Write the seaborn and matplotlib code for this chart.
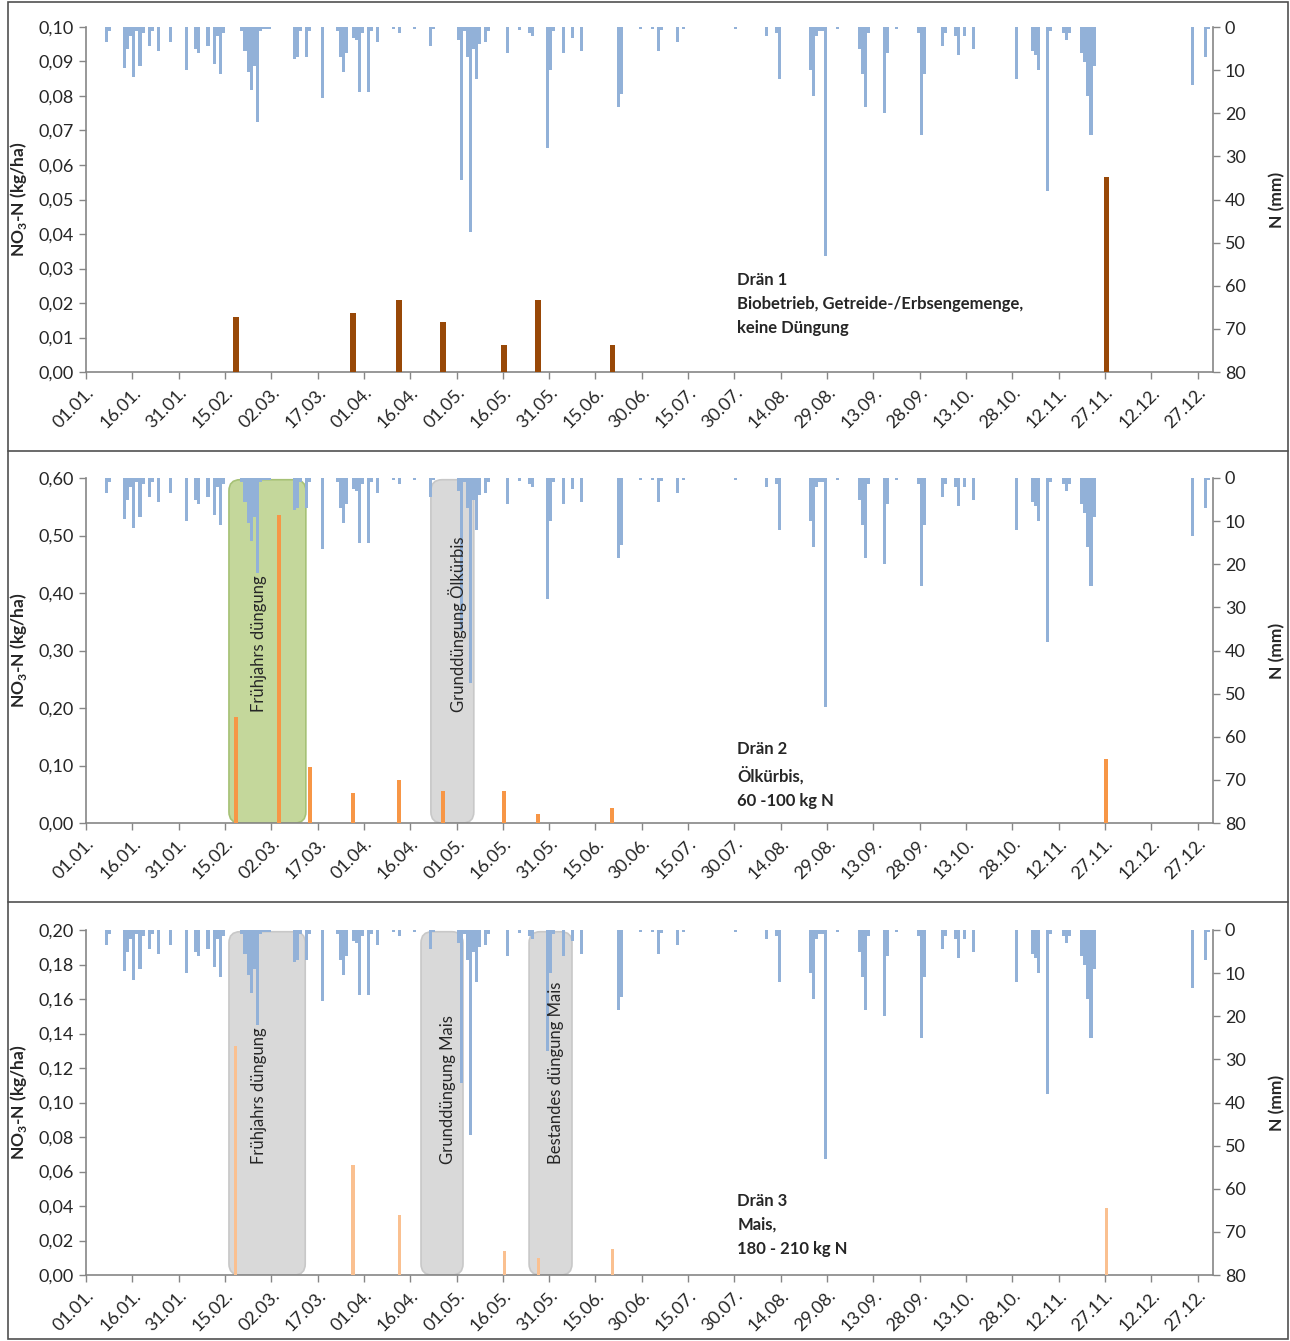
import matplotlib.pyplot as plt
import matplotlib.patches as mpatches
from matplotlib.ticker import FuncFormatter, MultipleLocator
import numpy as np
import pandas as pd
import seaborn as sns

sns.set_theme(style="white")
plt.rcParams['font.family'] = ['Lato', 'DejaVu Sans']
plt.rcParams['mathtext.fontset'] = 'custom'
plt.rcParams['mathtext.rm'] = 'Lato'
plt.rcParams['mathtext.bf'] = 'Lato:bold'

# x axis: one category per day of the year, labels every 15 days
tick_labels = ['01.01.', '16.01.', '31.01.', '15.02.', '02.03.', '17.03.', '01.04.',
               '16.04.', '01.05.', '16.05.', '31.05.', '15.06.', '30.06.', '15.07.',
               '30.07.', '14.08.', '29.08.', '13.09.', '28.09.', '13.10.', '28.10.',
               '12.11.', '27.11.', '12.12.', '27.12.']

# daily precipitation N (mm), day index from 01.01. = 0
rain_day = [6, 7, 12, 13, 14, 15, 16, 17, 18, 20, 21, 23, 27, 32, 35, 36, 39, 41, 42, 43,
            44, 50, 51, 52, 53, 54, 55, 56, 57, 58, 59, 67, 68, 69, 71, 72, 76, 81, 82, 83,
            84, 86, 87, 88, 89, 91, 92, 94, 99, 101, 106, 111, 112, 120, 121, 122, 123, 124,
            125, 126, 127, 129, 130, 136, 140, 143, 144, 149, 150, 151, 154, 157, 160, 172,
            173, 179, 183, 185, 186, 191, 193, 210, 220, 223, 224, 234, 235, 236, 237, 238,
            239, 243, 250, 251, 252, 253, 258, 259, 262, 269, 270, 271, 277, 278, 281, 282,
            284, 287, 301, 306, 307, 308, 311, 312, 316, 317, 318, 322, 323, 324, 325, 326,
            358, 362, 363]
rain_mm = [3.4, 1, 9.5, 5, 2, 11.5, 1, 9, 1.5, 4.5, 1, 5.5, 3.5, 10, 5, 6, 4.5, 8.5, 2, 11,
           1.5, 1, 5.5, 10.5, 14.5, 9, 22, 1, 0.5, 0.5, 0.5, 7.5, 7, 1, 7, 1, 16.5, 1, 7, 10.5,
           6, 2.5, 3, 15, 1.5, 15, 1, 3.5, 0.5, 1.5, 0.5, 4.5, 0.5, 3, 35.5, 1, 7, 47.5,
           5, 12, 4, 3.5, 1, 6, 0.7, 1.5, 2, 28, 10, 1, 6, 2.5, 5.5, 18.5,
           15.5, 0.5, 0.5, 5.5, 0.7, 3.5, 0.5, 0.5, 2, 1.5, 12, 10, 16, 2, 1, 1,
           53, 0.5, 5, 11, 18.5, 1.5, 20, 6, 0.5, 1.5, 25, 11, 4.5, 1.5, 2, 6.5,
           2, 5, 12, 5.5, 6.5, 10, 38, 1, 1.5, 3, 1.5, 6, 8, 16, 25, 9,
           13.5, 7, 0.5]

# NO3-N loads (kg/ha) per drain
no3_day_1 = [48, 86, 101, 115, 135, 146, 170, 330]
no3_val_1 = [0.016, 0.017, 0.021, 0.0145, 0.0077, 0.021, 0.0077, 0.0565]
no3_day_2 = [48, 62, 72, 86, 101, 115, 135, 146, 170, 330]
no3_val_2 = [0.185, 0.536, 0.098, 0.053, 0.074, 0.055, 0.055, 0.016, 0.026, 0.112]
no3_day_3 = [48, 86, 101, 135, 146, 170, 330]
no3_val_3 = [0.133, 0.064, 0.035, 0.014, 0.010, 0.015, 0.039]

# fertilisation periods (start day, end day, label, label day)
periods_2 = [(45.8, 70.7, 'Frühjahrs düngung', 55.5),
             (111.2, 125.1, 'Grunddüngung Ölkürbis', 119.8)]
periods_3 = [(45.8, 70.5, 'Frühjahrs düngung', 55.5),
             (108.0, 121.6, 'Grunddüngung Mais', 116.6),
             (143.0, 156.9, 'Bestandes düngung Mais', 151.8)]

notes = ['Drän 1\nBiobetrieb, Getreide-/Erbsengemenge,\nkeine Düngung',
         'Drän 2\nÖlkürbis,\n60 -100 kg N',
         'Drän 3\nMais,\n180 - 210 kg N']

days = np.arange(365)
rain = pd.Series(rain_mm, index=rain_day).reindex(days, fill_value=0)

panels = [
    dict(days=no3_day_1, vals=no3_val_1, ymax=0.10, step=0.01, color='#984807', width=1.9,
         periods=[], box_colors=[], note_y=0.29),
    dict(days=no3_day_2, vals=no3_val_2, ymax=0.60, step=0.10, color='#F79646', width=1.3,
         periods=periods_2, box_colors=[('#C4D79B', '#A6C176'), ('#D9D9D9', '#C8C8C8')], note_y=0.238),
    dict(days=no3_day_3, vals=no3_val_3, ymax=0.20, step=0.02, color='#FAC090', width=1.1,
         periods=periods_3, box_colors=[('#D9D9D9', '#C8C8C8')] * 3, note_y=0.238),
]

fig = plt.figure(figsize=(12.9, 13.41), dpi=100)
W, H = 1290, 1341
ax_left, ax_w = 86 / W, 1127 / W
tops = [27, 478, 930]
ax_hpx = 345

spine_c = '#868686'
text_c = '#262626'
rain_c = '#92B1D8'

def comma(v, pos):
    return f'{v:.2f}'.replace('.', ',')

for i, p in enumerate(panels):
    top = tops[i]
    ax = fig.add_axes([ax_left, 1 - (top + ax_hpx) / H, ax_w, ax_hpx / H])
    ax2 = ax.twinx()

    # fertilisation periods as rounded boxes
    aspect = (p['ymax'] / ax_hpx) / (365 / 1127)
    for (x0, x1, lab, xt), (fc, ec) in zip(p['periods'], p['box_colors']):
        box = mpatches.FancyBboxPatch((x0, 0), x1 - x0, p['ymax'] * 0.995,
                                      boxstyle='round,pad=0,rounding_size=3.6',
                                      mutation_aspect=aspect, facecolor=fc,
                                      edgecolor=ec, lw=1.2, zorder=1)
        ax.add_patch(box)

    # NO3-N bars
    no3 = pd.Series(p['vals'], index=p['days']).reindex(days, fill_value=0)
    sns.barplot(x=days, y=no3.values, native_scale=True, width=p['width'],
                color=p['color'], saturation=1, errorbar=None, linewidth=0,
                edgecolor='none', ax=ax, zorder=3)

    # precipitation bars hanging from the top
    sns.barplot(x=days, y=rain.values, native_scale=True, width=1.0,
                color=rain_c, saturation=1, errorbar=None, linewidth=0,
                edgecolor='none', ax=ax2, zorder=2)

    for (x0, x1, lab, xt) in p['periods']:
        ax2.text(xt, 0.323, lab, rotation=90, ha='center', va='bottom',
                 fontsize=12, color=text_c, transform=ax2.get_xaxis_transform(), zorder=5)

    ax.text(0.578, p['note_y'], notes[i], transform=ax.transAxes, ha='left', va='top',
            fontsize=12, fontweight='bold', color=text_c, linespacing=1.62, zorder=6)

    ax.set_xlim(-0.5, 364.5)
    ax.set_ylim(0, p['ymax'])
    ax2.set_ylim(80, 0)
    ax.yaxis.set_major_locator(MultipleLocator(p['step']))
    ax.yaxis.set_major_formatter(FuncFormatter(comma))
    ax2.yaxis.set_major_locator(MultipleLocator(10))
    ax2.yaxis.set_major_formatter(FuncFormatter(lambda v, pos: f'{v:.0f}'))

    ax.set_xticks(np.arange(0, 361, 15) - 0.5)
    ax.set_xticklabels(tick_labels, rotation=45, ha='right', rotation_mode='anchor',
                       fontsize=13, color=text_c)
    ax.tick_params(axis='x', direction='out', length=5, width=1, color=spine_c, pad=4, bottom=True)
    ax.tick_params(axis='y', direction='out', length=5, width=1, color=spine_c, labelsize=13,
                   labelcolor=text_c, left=True)
    ax2.tick_params(axis='y', direction='out', length=5, width=1, color=spine_c, labelsize=13,
                    labelcolor=text_c, right=True)

    ax.set_xlabel('')
    ax.set_ylabel(r'NO$_\mathbf{3}$-N (kg/ha)', fontsize=12.5, fontweight='bold', color=text_c)
    ax.yaxis.set_label_coords(-0.051, 0.5)
    ax2.set_ylabel('N (mm)', fontsize=12.5, fontweight='bold', color=text_c, rotation=90)
    ax2.yaxis.set_label_coords(1.05, 0.5)

    for a in (ax, ax2):
        a.grid(False)
        a.spines['top'].set_visible(False)
        for s in ('left', 'right', 'bottom'):
            a.spines[s].set_color(spine_c)
            a.spines[s].set_linewidth(1.2)
    ax.spines['right'].set_visible(False)
    ax2.spines['left'].set_visible(False)
    ax2.spines['bottom'].set_visible(False)

# outer frame and dividers between the three panels
frame_c = '#505050'
fig.add_artist(mpatches.Rectangle((8 / W, 2 / H), 1280 / W, 1337 / H, transform=fig.transFigure,
                                  fill=False, edgecolor=frame_c, lw=1.2))
for yy in (451, 902):
    fig.add_artist(plt.Line2D([8 / W, 1288 / W], [1 - yy / H, 1 - yy / H],
                              transform=fig.transFigure, color=frame_c, lw=1.2))

fig.savefig('out.png', dpi=100)
